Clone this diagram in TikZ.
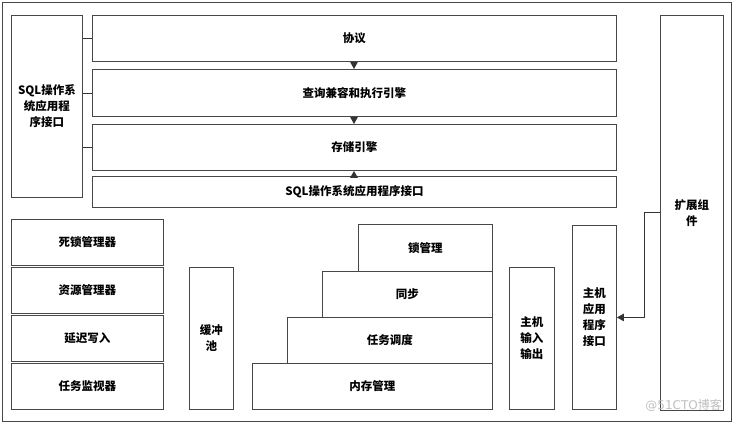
\documentclass[tikz,border=0pt]{standalone}
\usepackage{fontspec}
\newfontfamily\cjk{Noto Sans CJK SC}
\usetikzlibrary{arrows.meta}
\tikzset{
  box/.style={draw=black!72, line width=0.9pt, inner sep=0pt, anchor=north west,
    align=center, font=\cjk\bfseries\fontsize{11.5}{16}\selectfont},
  conn/.style={draw=black!80, line width=0.9pt},
  arr/.style={conn, -{Triangle[length=7pt,width=7.5pt]}}
}
\newcommand{\bx}[6]{\node[box, minimum width=#4pt, minimum height=#5pt] (#1) at (#2,#3) {#6};}
\begin{document}
\begin{tikzpicture}[x=1pt,y=-1pt]
\useasboundingbox (0,0) rectangle (734,424);
\node[draw=black!72, line width=0.9pt, minimum width=729pt, minimum height=419pt, anchor=north west, inner sep=0pt] (frame) at (2,2) {};
% top area
\bx{sql}{11}{15}{71}{182}{SQL操作系\\统应用程\\序接口}
\bx{p1}{92}{15}{524}{46}{协议}
\bx{p2}{92}{69}{524}{47}{查询兼容和执行引擎}
\bx{p3}{92}{124}{524}{46}{存储引擎}
\bx{p4}{92}{176}{524}{31}{SQL操作系统应用程序接口}
\coordinate (ax) at (354,0);
\draw[conn] (sql.east |- p1.west) -- (p1.west);
\draw[conn] (sql.east |- p2.west) -- (p2.west);
\draw[conn] (sql.east |- p3.west) -- (p3.west);
\draw[arr] (p1.south -| ax) -- (p2.north -| ax);
\draw[arr] (p2.south -| ax) -- (p3.north -| ax);
\draw[arr] (p4.north -| ax) -- (p3.south -| ax);
% extension
\bx{ext}{660}{15}{63}{395}{扩展组\\件}
% left column
\bx{dl}{11}{219}{152}{46}{死锁管理器}
\bx{rm}{11}{267}{152}{46}{资源管理器}
\bx{dw}{11}{315}{152}{46}{延迟写入}
\bx{tm}{11}{363}{152}{46}{任务监视器}
\bx{buf}{189}{267}{44}{142}{缓冲\\池}
% stairs
\bx{lock}{358}{224}{134}{47}{锁管理}
\bx{sync}{322}{271}{170}{46}{同步}
\bx{sched}{287}{317}{205}{46}{任务调度}
\bx{mem}{252}{363}{240}{46}{内存管理}
% host
\bx{hio}{509}{267}{45}{142}{主机\\输入\\输出}
\bx{hapi}{572}{225}{44}{184}{主机\\应用\\程序\\接口}
\coordinate (ea) at (644,212);
\draw[arr] (ext.west |- ea) -- (ea) |- (hapi.east);
\node[text=black!25, font=\fontspec{DejaVu Sans}\fontsize{12}{12}\selectfont, anchor=east, inner sep=0pt] (wm) at (722,405) {@51CTO\cjk 博客};
\end{tikzpicture}
\end{document}
